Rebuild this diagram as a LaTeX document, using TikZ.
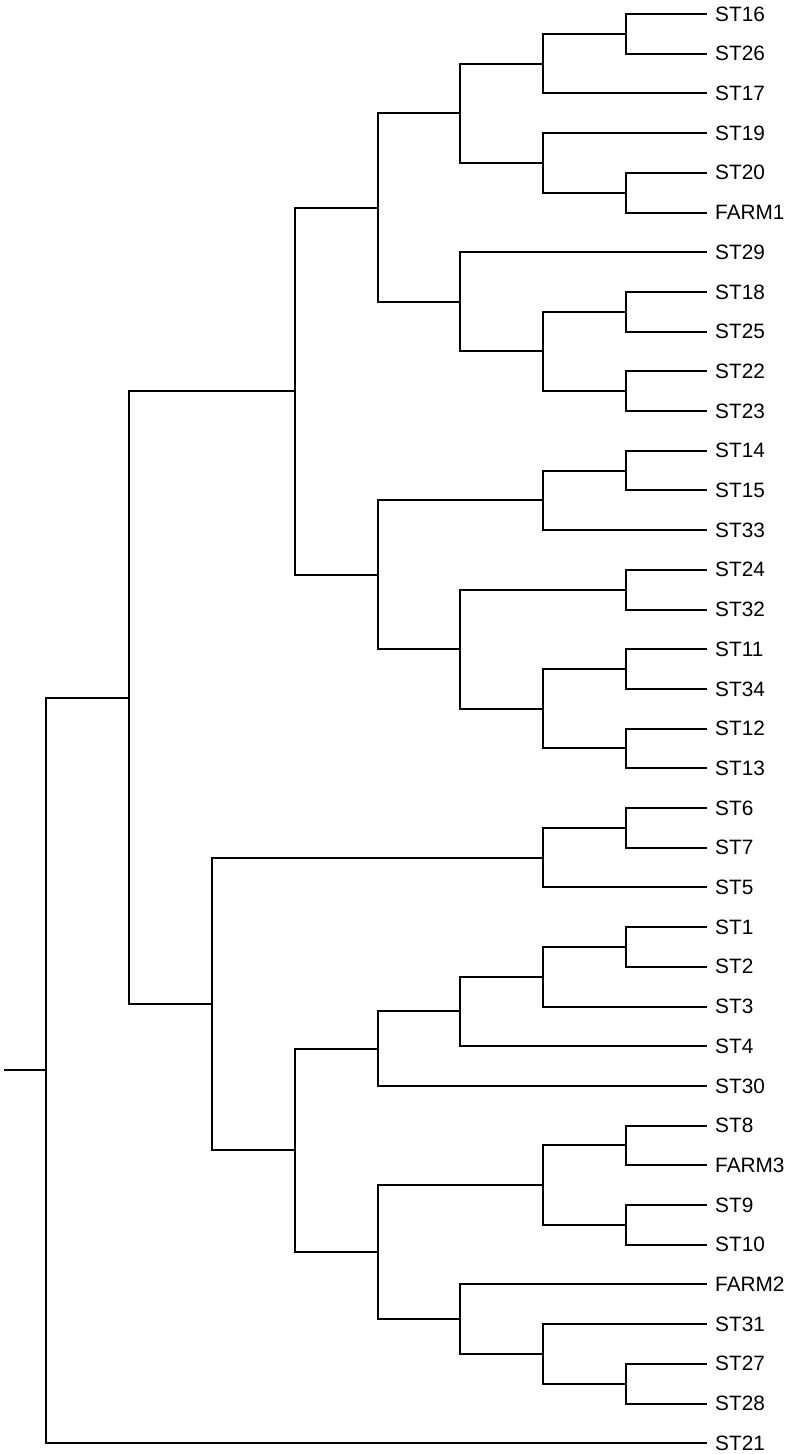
\documentclass[tikz,border=0pt]{standalone}
\usepackage{fontspec}
\setmainfont{Liberation Sans}
\usetikzlibrary{calc}
\newcommand{\ypos}[1]{14+39.7*(#1)}
\tikzset{
  branch/.style={line width=2pt},
  leaf/.style={anchor=west,inner xsep=8pt,inner ysep=0pt,font=\fontsize{20.8}{24}\selectfont}
}
\begin{document}
\begin{tikzpicture}[x=1pt,y=-1pt]
\useasboundingbox (0,0) rectangle (792,1454);
\foreach \name [count=\i from 0] in {ST16,ST26,ST17,ST19,ST20,FARM1,ST29,ST18,ST25,ST22,ST23,ST14,ST15,ST33,ST24,ST32,ST11,ST34,ST12,ST13,ST6,ST7,ST5,ST1,ST2,ST3,ST4,ST30,ST8,FARM3,ST9,ST10,FARM2,ST31,ST27,ST28,ST21}
  \node[leaf] (\name) at (707,{\ypos{\i}}) {\name};
\coordinate (a) at (626,{\ypos{0.5}}); \coordinate (b) at (543,{\ypos{1.25}});
\coordinate (c) at (626,{\ypos{4.5}}); \coordinate (d) at (543,{\ypos{3.75}});
\coordinate (e) at (460,{\ypos{2.5}});
\coordinate (f) at (626,{\ypos{7.5}}); \coordinate (g) at (626,{\ypos{9.5}});
\coordinate (h) at (543,{\ypos{8.5}}); \coordinate (k) at (460,{\ypos{7.25}});
\coordinate (m) at (377.5,{\ypos{4.875}});
\coordinate (n) at (626,{\ypos{11.5}}); \coordinate (o) at (543,{\ypos{12.25}});
\coordinate (p) at (626,{\ypos{14.5}}); \coordinate (q) at (626,{\ypos{16.5}});
\coordinate (r) at (626,{\ypos{18.5}}); \coordinate (s) at (543,{\ypos{17.5}});
\coordinate (t) at (460,{\ypos{16}}); \coordinate (u) at (377.5,{\ypos{14.125}});
\coordinate (v) at (294.5,{\ypos{9.5}});
\coordinate (w) at (626,{\ypos{20.5}}); \coordinate (x) at (543,{\ypos{21.25}});
\coordinate (y) at (626,{\ypos{23.5}}); \coordinate (z) at (543,{\ypos{24.25}});
\coordinate (aa) at (460,{\ypos{25.125}}); \coordinate (bb) at (377.5,{\ypos{26.0625}});
\coordinate (cc) at (626,{\ypos{28.5}}); \coordinate (dd) at (626,{\ypos{30.5}});
\coordinate (ee) at (543,{\ypos{29.5}});
\coordinate (ff) at (626,{\ypos{34.5}}); \coordinate (gg) at (543,{\ypos{33.75}});
\coordinate (hh) at (460,{\ypos{32.875}}); \coordinate (ii) at (377.5,{\ypos{31.1875}});
\coordinate (jj) at (294.5,{\ypos{28.625}}); \coordinate (kk) at (212,{\ypos{24.9375}});
\coordinate (ll) at (129,{\ypos{17.21875}});
\coordinate (root) at (46,{\ypos{26.609375}});
\coordinate (stub) at (4,{\ypos{26.609375}});
\foreach \p/\c in {a/ST16,a/ST26,b/a,b/ST17,c/ST20,c/FARM1,d/ST19,d/c,e/b,e/d,
  f/ST18,f/ST25,g/ST22,g/ST23,h/f,h/g,k/ST29,k/h,m/e,m/k,
  n/ST14,n/ST15,o/n,o/ST33,p/ST24,p/ST32,q/ST11,q/ST34,r/ST12,r/ST13,s/q,s/r,t/p,t/s,u/o,u/t,v/m,v/u,
  w/ST6,w/ST7,x/w,x/ST5,y/ST1,y/ST2,z/y,z/ST3,aa/z,aa/ST4,bb/aa,bb/ST30,
  cc/ST8,cc/FARM3,dd/ST9,dd/ST10,ee/cc,ee/dd,ff/ST27,ff/ST28,gg/ST31,gg/ff,hh/FARM2,hh/gg,ii/ee,ii/hh,
  jj/bb,jj/ii,kk/x,kk/jj,ll/v,ll/kk,root/ll,root/ST21}
  \draw[branch] (\p) |- (\c);
\draw[branch] (stub) -- (root);
\end{tikzpicture}
\end{document}
